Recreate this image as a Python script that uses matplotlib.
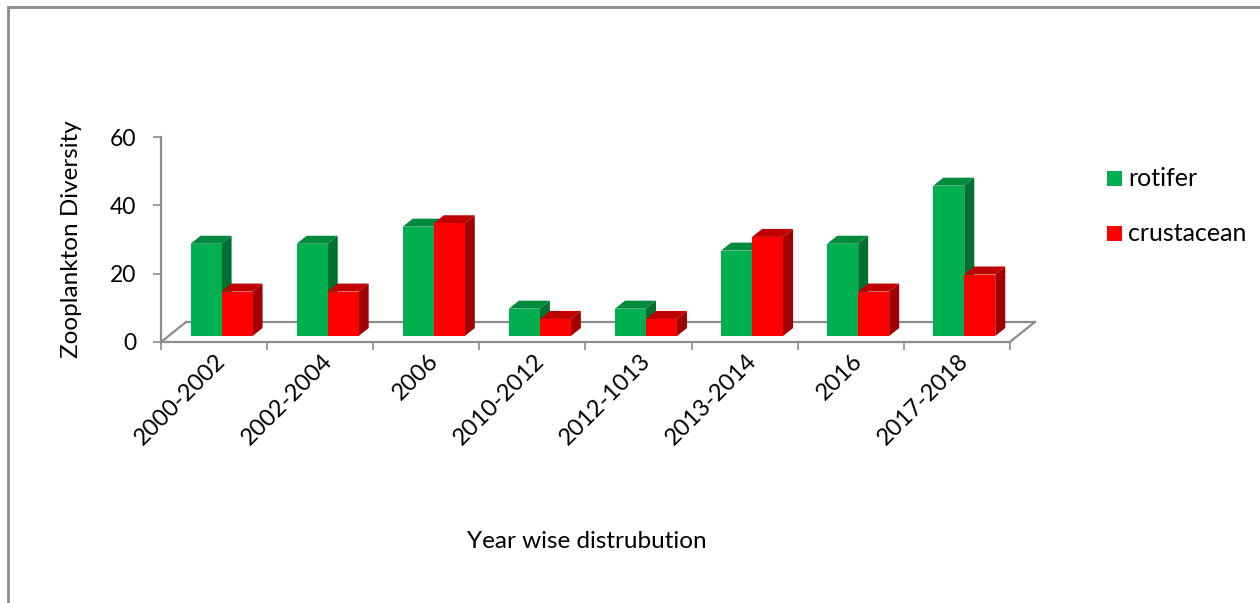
import matplotlib.pyplot as plt
from matplotlib.patches import Polygon, Rectangle
from matplotlib.transforms import ScaledTranslation

plt.rcParams['font.family'] = ['Lato', 'DejaVu Sans']

# data
periods = ["2000-2002", "2002-2004", "2006", "2010-2012", "2012-1013",
           "2013-2014", "2016", "2017-2018"]
rotifer = [27, 27, 32, 8, 8, 25, 27, 44]
crustacean = [13, 13, 33, 5, 5, 29, 13, 18]
series_names = ["rotifer", "crustacean"]

# colours: front, top, side
colours = {
    "rotifer": ("#00B050", "#008A3E", "#007030"),
    "crustacean": ("#FF0000", "#C00000", "#A00000"),
}
GRAY = "#8C8C8C"

# fake 3d: floor depth offset in data units
DX = 0.236
DY = 5.85
D0, D1 = 0.3, 0.7   # bar front / back depth
BAR_W = 0.292

fig = plt.figure(figsize=(12.6, 6.03), dpi=100)
ax = fig.add_axes([161 / 1260, (603 - 342) / 603, 8.3 * 106.1 / 1260, 205 / 603])
ax.set_xlim(0, 8.3)
ax.set_ylim(0, 60)

# floor outline
ax.plot([DX, 8 + DX], [DY, DY], color=GRAY, lw=1.6, zorder=1, clip_on=False)
ax.plot([0, DX], [0, DY], color=GRAY, lw=1.6, zorder=1, clip_on=False)
ax.plot([8, 8 + DX], [0, DY], color=GRAY, lw=1.6, zorder=1, clip_on=False)


def draw_bar(x_left, value, cols, z):
    front, top, side = cols
    b0 = D0 * DY
    b1 = D1 * DY
    xl = x_left + D0 * DX
    xr = xl + BAR_W
    wdx = (D1 - D0) * DX
    ax.add_patch(Polygon([(xr, b0), (xr, value + b0), (xr + wdx, value + b1), (xr + wdx, b1)],
                         closed=True, facecolor=side, edgecolor="none", zorder=z, clip_on=False))
    ax.add_patch(Polygon([(xl, value + b0), (xr, value + b0), (xr + wdx, value + b1), (xl + wdx, value + b1)],
                         closed=True, facecolor=top, edgecolor="none", zorder=z, clip_on=False))
    ax.bar(xl, value, width=BAR_W, bottom=b0, align="edge", color=front,
           edgecolor="none", zorder=z, clip_on=False)


for i in range(len(periods)):
    start = i + 0.5 - BAR_W
    draw_bar(start, rotifer[i], colours["rotifer"], 2 + 2 * i)
    draw_bar(start + BAR_W, crustacean[i], colours["crustacean"], 3 + 2 * i)

# axes styling
for s in ["top", "right"]:
    ax.spines[s].set_visible(False)
for s in ["left", "bottom"]:
    ax.spines[s].set_color(GRAY)
    ax.spines[s].set_linewidth(1.6)
ax.spines["bottom"].set_bounds(0, 8)

ax.set_yticks([0, 20, 40, 60])
ax.tick_params(axis="y", length=6, width=1.2, color=GRAY, labelsize=16.5, pad=12)

ax.set_xticks(range(9))
ax.set_xticklabels([])
ax.tick_params(axis="x", which="major", length=6, width=1.2, color=GRAY)
ax.set_xticks([i + 0.5 for i in range(len(periods))], minor=True)
ax.set_xticklabels(periods, minor=True, rotation=45, ha="right",
                   rotation_mode="anchor", fontsize=17)
ax.tick_params(axis="x", which="minor", length=0, pad=6)
shift = ScaledTranslation(1 / 100, 0, fig.dpi_scale_trans)
for lab in ax.get_xticklabels(minor=True):
    lab.set_transform(lab.get_transform() + shift)

ax.set_ylabel("Zooplankton Diversity", fontsize=17.5, labelpad=20)
fig.text(587 / 1260, 1 - 542 / 603, "Year wise distrubution", fontsize=17.5,
         ha="center", va="center")

# legend
for k, name in enumerate(series_names):
    ytop = 171 + 55 * k
    fig.patches.append(Rectangle((1107 / 1260, 1 - (ytop + 15) / 603), 15 / 1260, 15 / 603,
                                 transform=fig.transFigure, facecolor=colours[name][0],
                                 edgecolor="none"))
    fig.text(1128 / 1260, 1 - (ytop + 7.5) / 603, name, fontsize=18, va="center", ha="left")

# outer chart border
fig.patches.append(Rectangle((8 / 1260, -0.1), 1.2, 1.1 - 7 / 603,
                             transform=fig.transFigure, facecolor="none",
                             edgecolor=GRAY, lw=2))

fig.savefig("out.png", dpi=100)
